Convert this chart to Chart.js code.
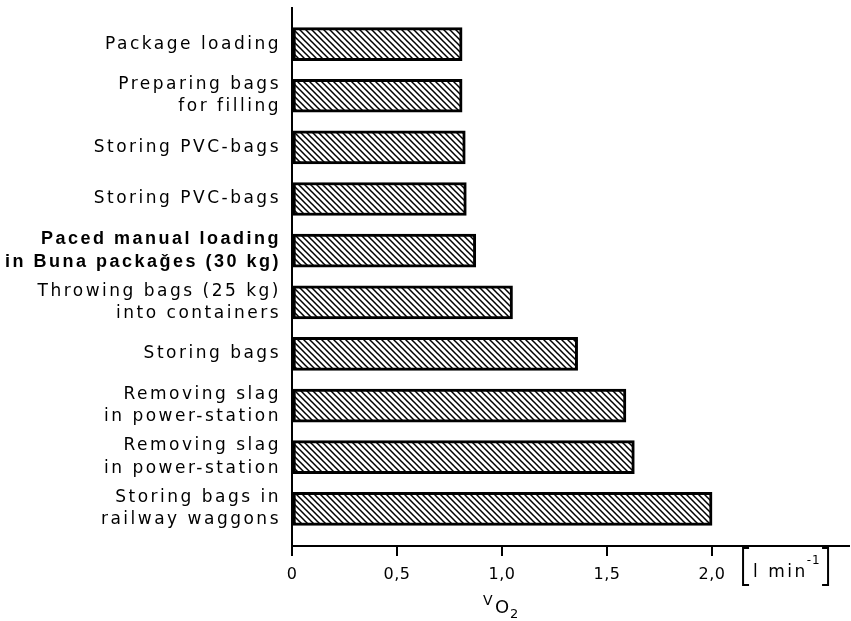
<!DOCTYPE html>
<html>
<head>
<meta charset="utf-8">
<script src="https://cdn.jsdelivr.net/npm/chart.js@4"></script>
<style>
  html, body { margin: 0; padding: 0; background: #fff; }
  #c { display: block; }
</style>
</head>
<body>
<canvas id="c" width="851" height="621"></canvas>
<script>
// Activities (top to bottom) and their oxygen uptake in l/min
const categories = [
  ['Package loading'],
  ['Preparing bags', 'for filling'],
  ['Storing PVC-bags'],
  ['Storing PVC-bags'],
  ['Paced manual loading', 'in Buna packaǧes (30 kg)'],
  ['Throwing bags (25 kg)', 'into containers'],
  ['Storing bags'],
  ['Removing slag', 'in power-station'],
  ['Removing slag', 'in power-station'],
  ['Storing bags in', 'railway waggons']
];
const vo2Values = [0.81, 0.81, 0.825, 0.83, 0.875, 1.05, 1.36, 1.59, 1.63, 2.0];
const xTickValues = [0, 0.5, 1.0, 1.5, 2.0];
const xTickLabels = ['0', '0,5', '1,0', '1,5', '2,0'];

const FONT = 'DejaVu Sans';
const SPACING = '2.5px';

const canvas = document.getElementById('c');
const mainCtx = canvas.getContext('2d');

// Diagonal "\\" hatching used to fill the bars
function makeHatch() {
  const s = 6;
  const t = document.createElement('canvas');
  t.width = s; t.height = s;
  const g = t.getContext('2d');
  g.fillStyle = '#fff';
  g.fillRect(0, 0, s, s);
  g.strokeStyle = '#000';
  g.lineWidth = 1.5;
  g.beginPath();
  g.moveTo(-1, -1); g.lineTo(s + 1, s + 1);
  g.moveTo(-1, s - 1); g.lineTo(1, s + 1);
  g.moveTo(s - 1, -1); g.lineTo(s + 1, 1);
  g.stroke();
  return mainCtx.createPattern(t, 'repeat');
}

// Category lettering is widely spaced; the numbers below the axis are tighter
const letterSpacing = {
  id: 'letterSpacing',
  beforeUpdate(chart) { chart.ctx.letterSpacing = SPACING; },
  beforeDraw(chart) { chart.ctx.letterSpacing = SPACING; },
  beforeDatasetsDraw(chart) { chart.ctx.letterSpacing = '0.5px'; }
};

// Unit in brackets next to the last tick, and the V̇O2 axis caption
const axisNotes = {
  id: 'axisNotes',
  afterDraw(chart) {
    const ctx = chart.ctx;
    const xs = chart.scales.x;
    const axisY = chart.chartArea.bottom;
    const base = xs.getPixelForValue(2.0);
    ctx.save();
    ctx.fillStyle = '#000';
    ctx.strokeStyle = '#000';
    ctx.letterSpacing = SPACING;

    // brackets
    const bl = base + 31, br = base + 116, bt = axisY + 2, bb = axisY + 39;
    ctx.lineWidth = 2;
    ctx.beginPath();
    ctx.moveTo(bl + 6, bt); ctx.lineTo(bl, bt); ctx.lineTo(bl, bb); ctx.lineTo(bl + 6, bb);
    ctx.moveTo(br - 6, bt); ctx.lineTo(br, bt); ctx.lineTo(br, bb); ctx.lineTo(br - 6, bb);
    ctx.stroke();

    ctx.textBaseline = 'alphabetic';
    ctx.textAlign = 'left';
    ctx.font = '17px "' + FONT + '"';
    ctx.fillText('l min', bl + 10, axisY + 31);
    const w = ctx.measureText('l min').width;
    ctx.font = '12px "' + FONT + '"';
    ctx.letterSpacing = '1px';
    ctx.fillText('-1', bl + 10 + w - 1, axisY + 18);

    // caption V̇O2
    const cx = xs.getPixelForValue(1.0);
    ctx.letterSpacing = '0px';
    ctx.font = '14px "' + FONT + '"';
    ctx.fillText('V', cx - 19, axisY + 59);
    ctx.font = '18px "' + FONT + '"';
    ctx.fillText('O', cx - 7, axisY + 67);
    ctx.font = '13px "' + FONT + '"';
    ctx.fillText('2', cx + 8, axisY + 72);
    ctx.restore();
  }
};

new Chart(canvas, {
  type: 'bar',
  data: {
    datasets: [{
      data: vo2Values.map((v, i) => ({ x: v, y: i })),
      backgroundColor: makeHatch(),
      borderColor: '#000',
      borderWidth: 3,
      borderSkipped: false,
      barThickness: 33
    }]
  },
  options: {
    indexAxis: 'y',
    responsive: false,
    devicePixelRatio: 1,
    animation: false,
    layout: { padding: { top: 8, right: 2, left: 0, bottom: 0 } },
    plugins: {
      legend: { display: false },
      tooltip: { enabled: false }
    },
    scales: {
      x: {
        type: 'linear',
        min: 0,
        max: 2.652,
        afterFit(s) { s.height = 75; s.paddingLeft = 0; s.paddingRight = 0; },
        afterBuildTicks(s) { s.ticks = xTickValues.map(v => ({ value: v })); },
        grid: {
          display: true,
          drawOnChartArea: false,
          drawTicks: true,
          tickLength: 10,
          color: '#000',
          lineWidth: 2
        },
        border: { display: true, color: '#000', width: 2 },
        ticks: {
          z: 1,
          autoSkip: false,
          maxRotation: 0,
          padding: 9,
          color: '#000',
          font: { family: FONT, size: 16 },
          callback: (v, i) => xTickLabels[i]
        }
      },
      y: {
        type: 'linear',
        reverse: true,
        offset: false,
        min: -0.7,
        max: 9.72,
        afterFit(s) { s.width = 292; s.paddingTop = 0; s.paddingBottom = 0; },
        afterBuildTicks(s) { s.ticks = categories.map((_, i) => ({ value: i })); },
        grid: { display: false, drawTicks: false, offset: false },
        border: { display: true, color: '#000', width: 2 },
        ticks: {
          autoSkip: false,
          padding: 11,
          color: '#000',
          font: (c) => (c.index === 4
            ? { family: 'Liberation Sans', size: 18, lineHeight: 1.25, weight: 'bold' }
            : { family: FONT, size: 17, lineHeight: 1.32, weight: 'normal' }),
          callback: (v) => categories[v]
        }
      }
    }
  },
  plugins: [letterSpacing, axisNotes]
});
</script>
</body>
</html>
